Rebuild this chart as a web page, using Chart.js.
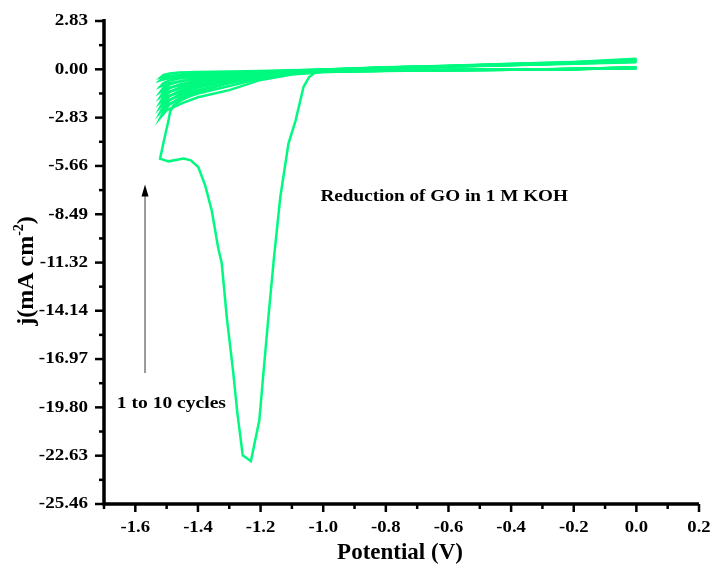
<!DOCTYPE html>
<html>
<head>
<meta charset="utf-8">
<script src="https://cdn.jsdelivr.net/npm/chart.js@4.4.1/dist/chart.umd.min.js"></script>
<style>
  html, body { margin: 0; padding: 0; background: #fff; }
  canvas { display: block; }
</style>
</head>
<body>
<canvas id="cv" width="712" height="564"></canvas>
<script>
// axis ticks (labels as printed on the figure)
const yTickLabels = ['2.83', '0.00', '-2.83', '-5.66', '-8.49', '-11.32', '-14.14', '-16.97', '-19.80', '-22.63', '-25.46'];
const xTickValues = [-1.6, -1.4, -1.2, -1.0, -0.8, -0.6, -0.4, -0.2, 0.0, 0.2];

// cycle 1: cathodic sweep with the big GO reduction peak
const cycle1CathX = [0.0, -0.2, -0.4, -0.6, -0.8, -0.95, -1.016, -1.045, -1.063, -1.088, -1.111, -1.137, -1.157, -1.175, -1.191, -1.204, -1.231, -1.257, -1.274, -1.287, -1.308, -1.324, -1.335, -1.356, -1.377, -1.399, -1.423, -1.446, -1.494, -1.521];
const cycle1CathJ = [0.1, 0.0, -0.02, -0.04, -0.06, -0.06, -0.06, -0.45, -1.04, -2.99, -4.35, -7.48, -10.99, -14.51, -17.81, -20.56, -22.95, -22.61, -20.15, -17.81, -14.51, -11.36, -10.49, -8.27, -6.80, -5.72, -5.33, -5.23, -5.39, -5.23];
// cycle 1: return sweep
const cycle1AnodX = [-1.521, -1.505, -1.494, -1.489, -1.478, -1.45, -1.4, -1.3, -1.2, -1.1, -1.0, -0.8, -0.6, -0.4, -0.2, 0.0];
const cycle1AnodJ = [-5.23, -3.87, -2.99, -2.5, -2.11, -1.78, -1.35, -0.78, -0.42, -0.2, -0.08, 0.07, 0.15, 0.24, 0.33, 0.42];

// cycles 2..10 share the same potential grid
const cathX = [0.0, -0.2, -0.4, -0.6, -0.8, -1.0, -1.1, -1.2, -1.3, -1.4, -1.45, -1.5, -1.52];
const cathodicJ = [
  [0.12, 0.02, -0.03, -0.06, -0.1, -0.16, -0.3, -0.62, -1.22, -1.64, -1.98, -2.4, -2.83],
  [0.12, 0.02, -0.03, -0.06, -0.09, -0.15, -0.27, -0.52, -0.98, -1.42, -1.72, -2.1, -2.50],
  [0.1, 0.02, -0.03, -0.05, -0.08, -0.14, -0.24, -0.44, -0.82, -1.22, -1.5, -1.85, -2.21],
  [0.1, 0.02, -0.02, -0.05, -0.08, -0.13, -0.21, -0.37, -0.69, -1.04, -1.3, -1.6, -1.92],
  [0.08, 0.02, -0.02, -0.04, -0.07, -0.11, -0.18, -0.31, -0.57, -0.86, -1.08, -1.35, -1.62],
  [0.08, 0.02, -0.02, -0.04, -0.06, -0.1, -0.15, -0.25, -0.46, -0.7, -0.9, -1.1, -1.33],
  [0.06, 0.02, -0.02, -0.03, -0.05, -0.08, -0.12, -0.2, -0.35, -0.53, -0.68, -0.85, -1.0],
  [0.06, 0.02, -0.01, -0.03, -0.04, -0.06, -0.09, -0.15, -0.26, -0.37, -0.46, -0.55, -0.64],
  [0.05, 0.02, -0.01, -0.02, -0.03, -0.05, -0.08, -0.12, -0.2, -0.28, -0.34, -0.42, -0.49]
];
const anodX = [-1.52, -1.51, -1.49, -1.46, -1.4, -1.3, -1.2, -1.1, -1.0, -0.8, -0.6, -0.4, -0.2, 0.0];
const anodicJ = [
  [-2.83, -2.45, -2.05, -1.7, -1.25, -0.78, -0.45, -0.22, -0.08, 0.08, 0.16, 0.25, 0.34, 0.44],
  [-2.50, -2.15, -1.8, -1.48, -1.08, -0.66, -0.38, -0.19, -0.07, 0.08, 0.17, 0.26, 0.35, 0.46],
  [-2.21, -1.88, -1.56, -1.28, -0.92, -0.56, -0.32, -0.16, -0.06, 0.09, 0.17, 0.26, 0.36, 0.48],
  [-1.92, -1.6, -1.33, -1.08, -0.78, -0.47, -0.27, -0.14, -0.05, 0.09, 0.18, 0.27, 0.37, 0.5],
  [-1.62, -1.33, -1.1, -0.9, -0.64, -0.39, -0.23, -0.12, -0.04, 0.1, 0.18, 0.28, 0.38, 0.52],
  [-1.33, -1.08, -0.88, -0.72, -0.52, -0.32, -0.19, -0.1, -0.03, 0.1, 0.19, 0.29, 0.39, 0.54],
  [-1.0, -0.8, -0.65, -0.54, -0.4, -0.26, -0.16, -0.08, -0.02, 0.11, 0.2, 0.3, 0.4, 0.56],
  [-0.64, -0.5, -0.4, -0.33, -0.26, -0.19, -0.13, -0.07, -0.01, 0.11, 0.2, 0.31, 0.42, 0.58],
  [-0.49, -0.33, -0.24, -0.19, -0.16, -0.13, -0.1, -0.06, -0.01, 0.12, 0.21, 0.32, 0.43, 0.62]
];

// annotations, in data units
const peakNote = { text: 'Reduction of GO in 1 M KOH', x: -1.009, y: -7.44 };
const cycleNote = { text: '1 to 10 cycles', x: -1.659, y: -19.57 };
const arrow = { x: -1.569, from: -17.79, to: -6.74 };

const lineColor = '#00FA80';
const fontFam = '"Liberation Serif", "Times New Roman", serif';

function pts(xs, js) {
  return xs.map((v, i) => ({ x: v, y: js[i] }));
}

const datasets = [{
  data: pts(cycle1CathX, cycle1CathJ).concat(pts(cycle1AnodX, cycle1AnodJ))
}];
cathodicJ.forEach((row, k) => {
  datasets.push({ data: pts(cathX, row).concat(pts(anodX, anodicJ[k])) });
});
datasets.forEach(d => {
  d.showLine = true;
  d.borderColor = lineColor;
  d.borderWidth = 2.5;
  d.pointRadius = 0;
  d.tension = 0;
});

function txt(ctx, s, x, y, size, align, stretch) {
  ctx.save();
  ctx.font = 'bold ' + size + 'px ' + fontFam;
  ctx.textAlign = align;
  ctx.textBaseline = 'middle';
  ctx.translate(x, y);
  ctx.scale(stretch, 1);
  ctx.fillText(s, 0, 0);
  ctx.restore();
}

const axesPlugin = {
  id: 'axes',
  afterDraw(chart) {
    const ctx = chart.ctx;
    const a = chart.chartArea;
    const xs = chart.scales.x, ys = chart.scales.y;
    ctx.save();
    ctx.fillStyle = '#000';
    ctx.strokeStyle = '#000';

    // axis lines
    ctx.lineWidth = 3.5;
    ctx.beginPath();
    ctx.moveTo(a.left, a.top - 2);
    ctx.lineTo(a.left, a.bottom);
    ctx.lineTo(a.right, a.bottom);
    ctx.stroke();

    // y ticks
    ctx.lineWidth = 2.5;
    const yVals = yTickLabels.map(parseFloat);
    yVals.forEach((v, i) => {
      const py = ys.getPixelForValue(v);
      ctx.beginPath();
      ctx.moveTo(a.left - 9, py);
      ctx.lineTo(a.left, py);
      ctx.stroke();
      txt(ctx, yTickLabels[i], a.left - 16, py, 17, 'right', 1.12);
      if (i < yVals.length - 1) {
        const pm = ys.getPixelForValue((v + yVals[i + 1]) / 2);
        ctx.beginPath();
        ctx.moveTo(a.left - 5, pm);
        ctx.lineTo(a.left, pm);
        ctx.stroke();
      }
    });

    // x ticks
    xTickValues.forEach((v, i) => {
      const px = xs.getPixelForValue(v);
      ctx.beginPath();
      ctx.moveTo(px, a.bottom);
      ctx.lineTo(px, a.bottom + 8);
      ctx.stroke();
      txt(ctx, v.toFixed(1), px, a.bottom + 24, 17, 'center', 1.1);
      const pm = xs.getPixelForValue(v - 0.1);
      ctx.beginPath();
      ctx.moveTo(pm, a.bottom);
      ctx.lineTo(pm, a.bottom + 5);
      ctx.stroke();
    });

    // x title
    ctx.font = 'bold 23px ' + fontFam;
    ctx.textAlign = 'center';
    ctx.textBaseline = 'alphabetic';
    ctx.fillText('Potential (V)', 400, 559);

    // y title with superscript
    ctx.save();
    ctx.translate(33, 271);
    ctx.rotate(-Math.PI / 2);
    const big = 'bold 24px ' + fontFam, small = 'bold 14px ' + fontFam;
    ctx.font = big;
    const w1 = ctx.measureText('j(mA cm').width;
    const w3 = ctx.measureText(')').width;
    ctx.font = small;
    const w2 = ctx.measureText('-2').width;
    let sx = -(w1 + w2 + w3) / 2;
    ctx.textAlign = 'left';
    ctx.font = big;
    ctx.fillText('j(mA cm', sx, 0);
    ctx.font = small;
    ctx.fillText('-2', sx + w1, -10);
    ctx.font = big;
    ctx.fillText(')', sx + w1 + w2, 0);
    ctx.restore();

    // annotations
    txt(ctx, peakNote.text, xs.getPixelForValue(peakNote.x), ys.getPixelForValue(peakNote.y), 17, 'left', 1.13);
    txt(ctx, cycleNote.text, xs.getPixelForValue(cycleNote.x), ys.getPixelForValue(cycleNote.y), 17, 'left', 1.15);

    const ax = xs.getPixelForValue(arrow.x);
    const ay0 = ys.getPixelForValue(arrow.from), ay1 = ys.getPixelForValue(arrow.to);
    ctx.strokeStyle = '#707070';
    ctx.lineWidth = 1.4;
    ctx.beginPath();
    ctx.moveTo(ax, ay0);
    ctx.lineTo(ax, ay1 + 10);
    ctx.stroke();
    ctx.fillStyle = '#000';
    ctx.beginPath();
    ctx.moveTo(ax, ay1);
    ctx.lineTo(ax - 3.5, ay1 + 12);
    ctx.lineTo(ax + 3.5, ay1 + 12);
    ctx.closePath();
    ctx.fill();
    ctx.restore();
  }
};

new Chart(document.getElementById('cv'), {
  type: 'scatter',
  data: { datasets: datasets },
  options: {
    responsive: false,
    animation: false,
    devicePixelRatio: 1,
    layout: { padding: { left: 104, right: 13, top: 21, bottom: 60 } },
    plugins: { legend: { display: false }, tooltip: { enabled: false } },
    scales: {
      x: { type: 'linear', min: -1.7, max: 0.2, display: false },
      y: { type: 'linear', min: -25.46, max: 2.83, display: false }
    }
  },
  plugins: [axesPlugin]
});
</script>
</body>
</html>
